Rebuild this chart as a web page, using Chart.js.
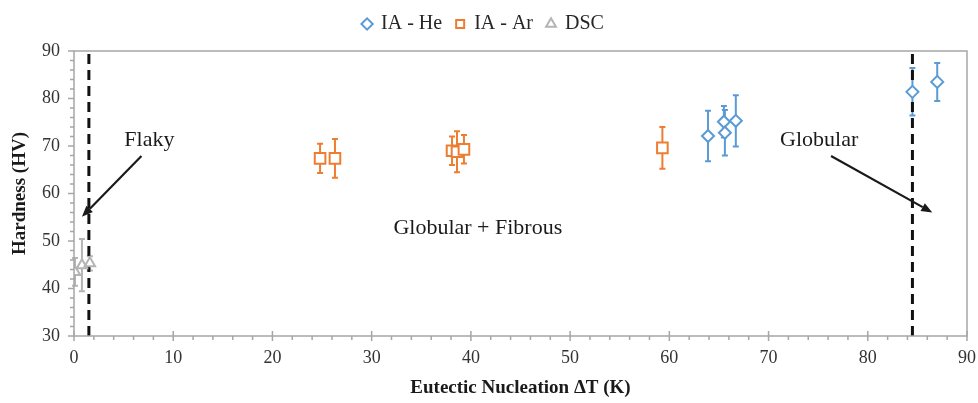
<!DOCTYPE html>
<html>
<head>
<meta charset="utf-8">
<script src="https://cdn.jsdelivr.net/npm/chart.js@4.4.1/dist/chart.umd.min.js"></script>
<style>
html, body { margin: 0; padding: 0; background: #fff; }
#wrap { width: 978px; height: 403px; }
</style>
</head>
<body>
<div id="wrap"><canvas id="hardnessChart"></canvas></div>
<script>
// IA - He samples
const heDeltaT = [63.9, 65.5, 65.6, 66.7, 84.5, 87.0];
const heHardness = [72.1, 75.1, 72.8, 75.3, 81.4, 83.5];
const heError = [5.3, 3.3, 4.8, 5.4, 5.0, 4.0];

// IA - Ar samples
const arDeltaT = [24.8, 26.3, 38.1, 38.6, 39.3, 59.3];
const arHardness = [67.4, 67.4, 69.0, 68.8, 69.3, 69.6];
const arError = [3.1, 4.1, 3.0, 4.3, 3.0, 4.4];

// DSC samples
const dscDeltaT = [0.1, 0.8, 1.6];
const dscHardness = [43.5, 44.9, 45.3];
const dscError = [2.9, 5.5, 1.5];

// morphology boundaries
const boundaryDeltaT = [1.5, 84.5];

const xTicks = [0, 10, 20, 30, 40, 50, 60, 70, 80, 90];
const yTicks = [30, 40, 50, 60, 70, 80, 90];

const serif = "'Liberation Serif', 'DejaVu Serif', serif";

function points(xs, ys) {
    return xs.map((x, i) => ({ x: x, y: ys[i] }));
}

function boundary(x) {
    return {
        type: 'line',
        label: 'boundary',
        data: [{ x: x, y: yTicks[0] }, { x: x, y: yTicks[yTicks.length - 1] }],
        borderColor: '#111',
        borderWidth: 3,
        borderDash: [10, 6],
        pointRadius: 0,
        fill: false
    };
}

// vertical error bars, drawn under the markers
const errorBars = {
    id: 'errorBars',
    beforeDatasetsDraw(chart) {
        const { ctx, scales: { x, y } } = chart;
        chart.data.datasets.forEach(ds => {
            if (!ds.errors) return;
            ctx.save();
            ctx.strokeStyle = ds.borderColor;
            ctx.lineWidth = 2;
            ds.data.forEach((p, i) => {
                const px = x.getPixelForValue(p.x);
                const top = y.getPixelForValue(p.y + ds.errors[i]);
                const bot = y.getPixelForValue(p.y - ds.errors[i]);
                ctx.beginPath();
                ctx.moveTo(px, top); ctx.lineTo(px, bot);
                ctx.moveTo(px - 3, top); ctx.lineTo(px + 3, top);
                ctx.moveTo(px - 3, bot); ctx.lineTo(px + 3, bot);
                ctx.stroke();
            });
            ctx.restore();
        });
    }
};

// plot frame with major and minor tick marks
const frameTicks = {
    id: 'frameTicks',
    afterDraw(chart) {
        const { ctx, chartArea: a, scales: { x, y } } = chart;
        ctx.save();
        ctx.strokeStyle = '#a6a6a6';
        ctx.lineWidth = 1.5;
        ctx.strokeRect(a.left, a.top, a.right - a.left, a.bottom - a.top);
        ctx.beginPath();
        for (let v = 0; v <= 90; v += 2) {
            const px = x.getPixelForValue(v);
            const major = v % 10 === 0;
            ctx.moveTo(px, a.bottom + (major ? 5 : 4));
            ctx.lineTo(px, a.bottom - (major ? 5 : 0));
        }
        for (let v = 30; v <= 90; v += 2) {
            const py = y.getPixelForValue(v);
            const major = v % 10 === 0;
            ctx.moveTo(a.left - (major ? 6 : 4), py);
            ctx.lineTo(a.left, py);
        }
        ctx.stroke();
        ctx.restore();
    }
};

// keep the legend band a fixed height
const legendBand = {
    id: 'legendBand',
    beforeInit(chart) {
        const fit = chart.legend.fit;
        chart.legend.fit = function () {
            fit.call(this);
            this.height = 51;
        };
    }
};

function arrow(ctx, x1, y1, x2, y2) {
    const ang = Math.atan2(y2 - y1, x2 - x1);
    const len = 11, half = 4.5;
    const bx = x2 - len * Math.cos(ang), by = y2 - len * Math.sin(ang);
    ctx.beginPath();
    ctx.moveTo(x1, y1);
    ctx.lineTo(bx, by);
    ctx.stroke();
    ctx.beginPath();
    ctx.moveTo(x2, y2);
    ctx.lineTo(bx + half * Math.sin(ang), by - half * Math.cos(ang));
    ctx.lineTo(bx - half * Math.sin(ang), by + half * Math.cos(ang));
    ctx.closePath();
    ctx.fill();
}

// region labels and arrows, placed in data units
const regionNotes = {
    id: 'regionNotes',
    afterDatasetsDraw(chart) {
        const { ctx, scales: { x, y } } = chart;
        const X = v => x.getPixelForValue(v), Y = v => y.getPixelForValue(v);
        ctx.save();
        ctx.fillStyle = '#1a1a1a';
        ctx.strokeStyle = '#1a1a1a';
        ctx.lineWidth = 2.2;
        ctx.font = "22px " + serif;
        ctx.textAlign = 'center';
        ctx.textBaseline = 'middle';
        ctx.fillText('Flaky', X(7.6), Y(71.3));
        ctx.fillText('Globular', X(75.1), Y(71.3));
        ctx.fillText('Globular + Fibrous', X(40.7), Y(52.7));
        arrow(ctx, X(6.8), Y(67.9), X(0.8), Y(55.1));
        arrow(ctx, X(76.3), Y(67.9), X(86.5), Y(56.0));
        ctx.restore();
    }
};

new Chart(document.getElementById('hardnessChart'), {
    type: 'scatter',
    data: {
        datasets: [
            {
                label: 'IA - He',
                data: points(heDeltaT, heHardness),
                errors: heError,
                pointStyle: 'rectRot',
                pointRadius: 6,
                borderColor: '#5b9bd5',
                backgroundColor: '#ffffff',
                pointBorderWidth: 2
            },
            {
                label: 'IA - Ar',
                data: points(arDeltaT, arHardness),
                errors: arError,
                pointStyle: 'rect',
                pointRadius: 7.5,
                borderColor: '#ed7d31',
                backgroundColor: '#ffffff',
                pointBorderWidth: 2
            },
            {
                label: 'DSC',
                data: points(dscDeltaT, dscHardness),
                errors: dscError,
                pointStyle: 'triangle',
                pointRadius: 6,
                borderColor: '#b4b4b4',
                backgroundColor: '#ffffff',
                pointBorderWidth: 2
            },
            boundary(boundaryDeltaT[0]),
            boundary(boundaryDeltaT[1])
        ]
    },
    options: {
        responsive: true,
        maintainAspectRatio: false,
        animation: false,
        layout: { padding: { left: 0, right: 11, top: 0, bottom: 0 } },
        plugins: {
            tooltip: { enabled: false },
            legend: {
                position: 'top',
                labels: {
                    usePointStyle: true,
                    boxWidth: 8,
                    boxHeight: 8,
                    padding: 14,
                    color: '#262626',
                    font: { family: serif, size: 20 },
                    filter: item => item.datasetIndex < 3
                }
            }
        },
        scales: {
            x: {
                type: 'linear',
                min: xTicks[0],
                max: xTicks[xTicks.length - 1],
                afterBuildTicks: s => { s.ticks = xTicks.map(v => ({ value: v })); },
                afterFit: s => { s.height = 67; s.paddingLeft = 0; s.paddingRight = 0; },
                grid: { display: false, drawTicks: false },
                border: { display: false },
                ticks: { padding: 11, color: '#333', font: { family: serif, size: 18 } },
                title: {
                    display: true,
                    text: 'Eutectic Nucleation ΔT (K)',
                    color: '#1a1a1a',
                    padding: { top: 6 },
                    font: { family: serif, size: 19, weight: 'bold' }
                }
            },
            y: {
                type: 'linear',
                min: yTicks[0],
                max: yTicks[yTicks.length - 1],
                afterBuildTicks: s => { s.ticks = yTicks.map(v => ({ value: v })); },
                afterFit: s => { s.width = 74; s.paddingTop = 0; s.paddingBottom = 0; },
                grid: { display: false, drawTicks: false },
                border: { display: false },
                ticks: { padding: 14, color: '#333', font: { family: serif, size: 18 } },
                title: {
                    display: true,
                    text: 'Hardness (HV)',
                    color: '#1a1a1a',
                    padding: { top: 9, bottom: 0 },
                    font: { family: serif, size: 19, weight: 'bold' }
                }
            }
        }
    },
    plugins: [errorBars, frameTicks, regionNotes, legendBand]
});
</script>
</body>
</html>
